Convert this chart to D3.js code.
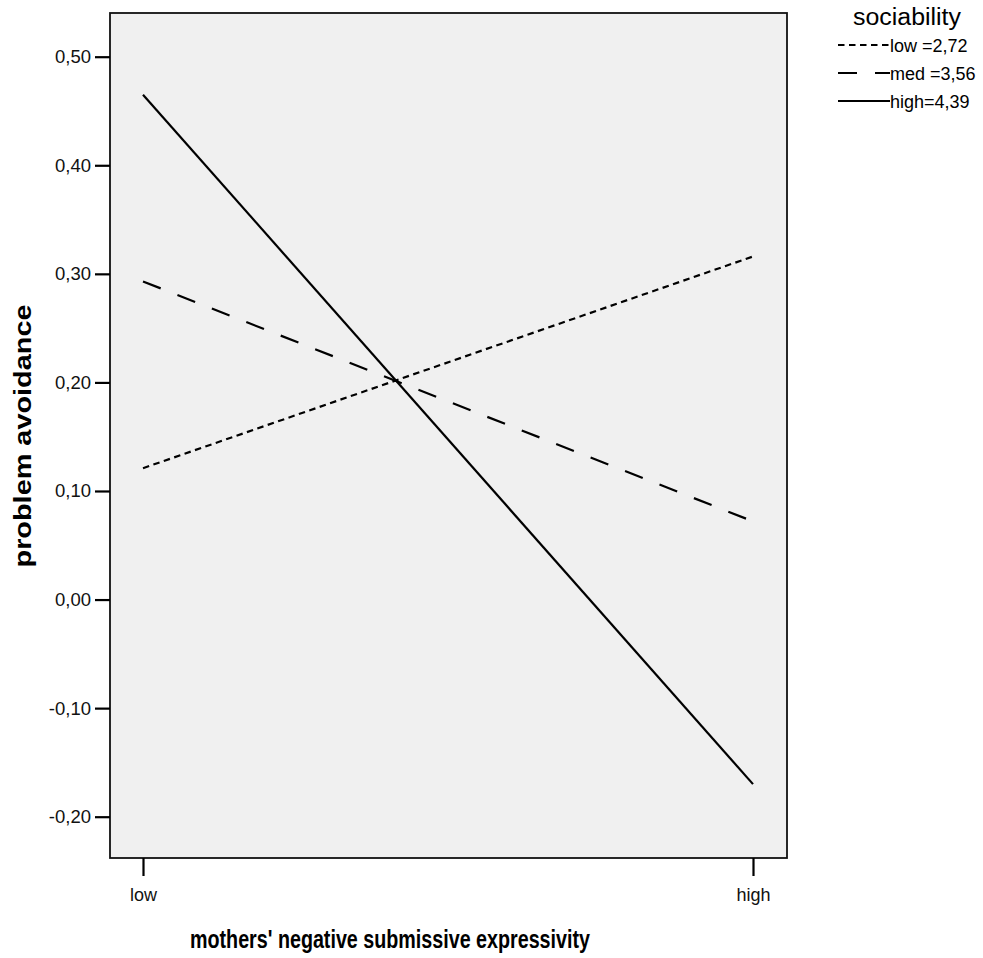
<!DOCTYPE html>
<html>
<head>
<meta charset="utf-8">
<script src="https://cdn.jsdelivr.net/npm/d3@7"></script>
<style>
  html, body { margin: 0; padding: 0; background: #ffffff; }
  svg { display: block; font-family: "Liberation Sans", Arial, sans-serif; }
</style>
</head>
<body>
<svg id="chart" width="983" height="958"></svg>
<script>
// Predictor levels on the x axis
const xLevels = ["low", "high"];
// Moderator (sociability) levels shown in the legend
const seriesNames = ["low =2,72", "med =3,56", "high=4,39"];
// Predicted problem avoidance at low / high expressivity
const lowValues = [0.121, 0.316];
const medValues = [0.293, 0.072];
const highValues = [0.465, -0.170];
// Y axis tick values
const yTicks = [-0.2, -0.1, 0.0, 0.1, 0.2, 0.3, 0.4, 0.5];

const series = [
  { name: seriesNames[0], values: lowValues, dash: "6.5,4.5" },
  { name: seriesNames[1], values: medValues, dash: "19,18" },
  { name: seriesNames[2], values: highValues, dash: null }
];

const svg = d3.select("#chart");
const frame = { left: 110, top: 13, right: 787, bottom: 858 };

const x = d3.scalePoint().domain(xLevels).range([143, 753]);
const y = d3.scaleLinear().domain([-0.2, 0.5]).range([816.7, 56.7]);

const fmt = d => d3.format(".2f")(d).replace("\u2212", "-").replace(".", ",");

// Plot background and frame
svg.append("rect")
  .attr("x", frame.left).attr("y", frame.top)
  .attr("width", frame.right - frame.left)
  .attr("height", frame.bottom - frame.top)
  .attr("fill", "#f0f0f0")
  .attr("stroke", "#111")
  .attr("stroke-width", 1.8);

// Y axis
const yAxis = svg.append("g")
  .attr("transform", `translate(${frame.left},0)`)
  .call(d3.axisLeft(y).tickValues(yTicks).tickFormat(fmt).tickSize(15).tickPadding(4));
yAxis.select(".domain").remove();
yAxis.selectAll(".tick line").attr("stroke", "#000").attr("stroke-width", 2.2);
yAxis.selectAll(".tick text")
  .attr("font-size", 18.5)
  .attr("fill", "#111")
  .attr("font-family", "'Liberation Sans', Arial, sans-serif");

// X axis
const xAxis = svg.append("g")
  .attr("transform", `translate(0,${frame.bottom})`)
  .call(d3.axisBottom(x).tickSize(18).tickPadding(12));
xAxis.select(".domain").remove();
xAxis.selectAll(".tick line").attr("stroke", "#000").attr("stroke-width", 2.2);
xAxis.selectAll(".tick text")
  .attr("font-size", 18)
  .attr("fill", "#111")
  .attr("font-family", "'Liberation Sans', Arial, sans-serif");

// Lines
const line = d3.line().x((d, i) => x(xLevels[i])).y(d => y(d));
svg.append("g").selectAll("path")
  .data(series)
  .join("path")
  .attr("d", d => line(d.values))
  .attr("fill", "none")
  .attr("stroke", "#000")
  .attr("stroke-width", 2.2)
  .attr("stroke-dasharray", d => d.dash);

// Axis titles
svg.append("text")
  .attr("x", 390).attr("y", 948)
  .attr("text-anchor", "middle")
  .attr("font-size", 25)
  .attr("font-weight", "bold")
  .attr("fill", "#000")
  .attr("textLength", 400)
  .attr("lengthAdjust", "spacingAndGlyphs")
  .text("mothers' negative submissive expressivity");

svg.append("text")
  .attr("transform", "translate(31,436) rotate(-90)")
  .attr("text-anchor", "middle")
  .attr("font-size", 23)
  .attr("font-weight", "bold")
  .attr("fill", "#000")
  .attr("textLength", 263)
  .attr("lengthAdjust", "spacingAndGlyphs")
  .text("problem avoidance");

// Legend
const legend = svg.append("g");
legend.append("text")
  .attr("x", 907).attr("y", 25)
  .attr("text-anchor", "middle")
  .attr("font-size", 23)
  .attr("fill", "#000")
  .attr("textLength", 108)
  .attr("lengthAdjust", "spacingAndGlyphs")
  .text("sociability");
const rows = legend.selectAll("g.row")
  .data(series)
  .join("g")
  .attr("class", "row")
  .attr("transform", (d, i) => `translate(838,${45 + i * 28})`);
rows.append("line")
  .attr("x1", 0).attr("x2", 52)
  .attr("stroke", "#000")
  .attr("stroke-width", 2.2)
  .attr("stroke-dasharray", d => d.dash);
rows.append("text")
  .attr("x", 52).attr("y", 6.5)
  .attr("font-size", 18)
  .attr("fill", "#000")
  .text(d => d.name);
</script>
</body>
</html>
